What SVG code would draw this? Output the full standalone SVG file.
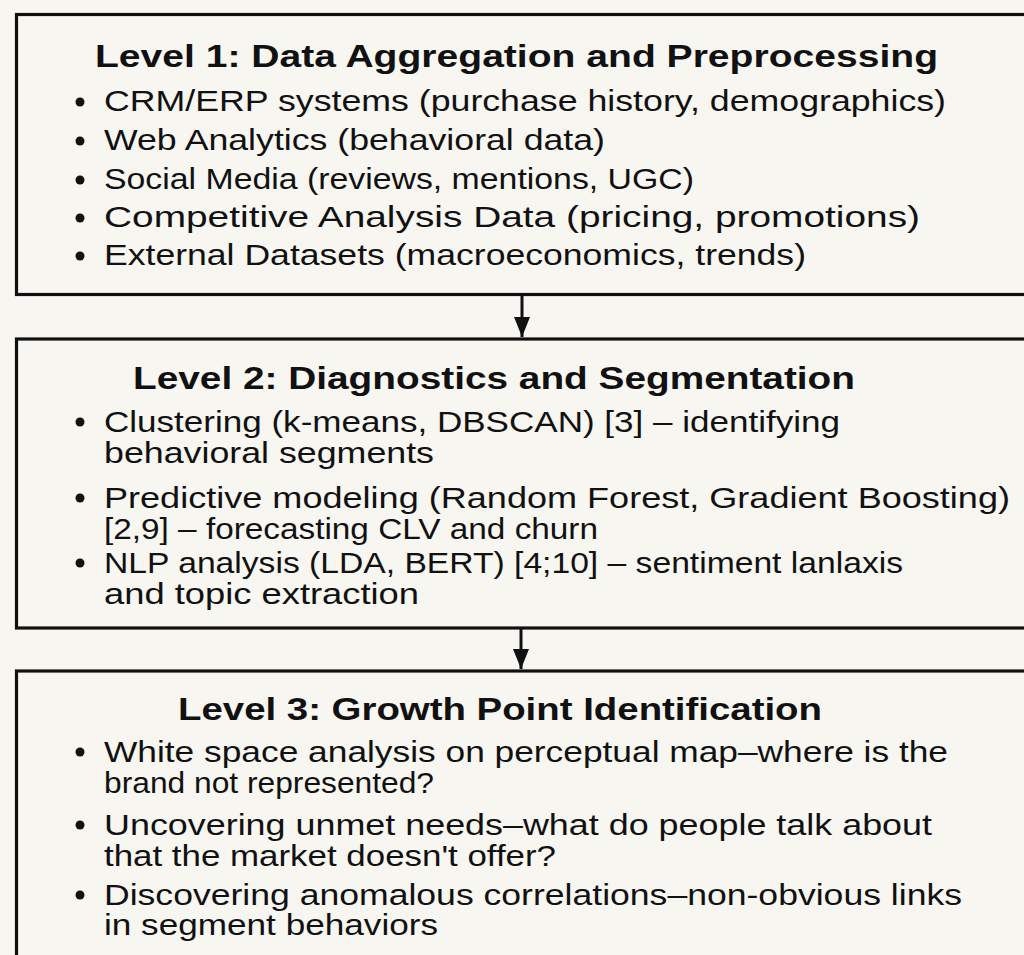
<svg xmlns="http://www.w3.org/2000/svg" width="1024" height="955" viewBox="0 0 1024 955">
  <style>
    .box { fill: #f8f6f1; stroke: #111; stroke-width: 3.2; }
    .title { font-family: "Liberation Sans", Arial, sans-serif; font-weight: bold; font-size: 31px; fill: #111; }
    .item { font-family: "Liberation Sans", Arial, sans-serif; font-size: 29px; fill: #111; }
    .bullet { fill: #111; }
    .conn { stroke: #111; stroke-width: 3; fill: none; }
  </style>
  <defs>
    <marker id="arrowhead" viewBox="0 0 20 16" refX="20" refY="8" markerWidth="20" markerHeight="16" markerUnits="userSpaceOnUse" orient="auto">
      <path d="M0,0 L20,8 L0,16 Z" fill="#111"/>
    </marker>
  </defs>

  <rect width="1024" height="955" fill="#f8f6f1"/>

  <!-- Level 1 -->
  <g id="level1">
    <rect class="box" x="16.5" y="14.5" width="1030" height="280"/>
    <text class="title" x="95" y="67" textLength="843" lengthAdjust="spacingAndGlyphs">Level 1: Data Aggregation and Preprocessing</text>
    <circle class="bullet" cx="80" cy="102" r="4.5"/>
    <text class="item" x="104" y="111" textLength="842" lengthAdjust="spacingAndGlyphs">CRM/ERP systems (purchase history, demographics)</text>
    <circle class="bullet" cx="80" cy="141" r="4.5"/>
    <text class="item" x="104" y="150" textLength="501" lengthAdjust="spacingAndGlyphs">Web Analytics (behavioral data)</text>
    <circle class="bullet" cx="80" cy="180" r="4.5"/>
    <text class="item" x="104" y="189" textLength="590" lengthAdjust="spacingAndGlyphs">Social Media (reviews, mentions, UGC)</text>
    <circle class="bullet" cx="80" cy="218" r="4.5"/>
    <text class="item" x="104" y="227" textLength="816" lengthAdjust="spacingAndGlyphs">Competitive Analysis Data (pricing, promotions)</text>
    <circle class="bullet" cx="80" cy="256" r="4.5"/>
    <text class="item" x="104" y="265" textLength="702" lengthAdjust="spacingAndGlyphs">External Datasets (macroeconomics, trends)</text>
  </g>

  <!-- Level 2 -->
  <g id="level2">
    <rect class="box" x="16.5" y="339" width="1030" height="289"/>
    <text class="title" x="133" y="389" textLength="722" lengthAdjust="spacingAndGlyphs">Level 2: Diagnostics and Segmentation</text>
    <circle class="bullet" cx="80" cy="422" r="4.5"/>
    <text class="item" x="104" y="432" textLength="736" lengthAdjust="spacingAndGlyphs">Clustering (k-means, DBSCAN) [3] – identifying</text>
    <text class="item" x="104" y="463" textLength="330" lengthAdjust="spacingAndGlyphs">behavioral segments</text>
    <circle class="bullet" cx="80" cy="498" r="4.5"/>
    <text class="item" x="104" y="508" textLength="906" lengthAdjust="spacingAndGlyphs">Predictive modeling (Random Forest, Gradient Boosting)</text>
    <text class="item" x="104" y="539" textLength="494" lengthAdjust="spacingAndGlyphs">[2,9] – forecasting CLV and churn</text>
    <circle class="bullet" cx="80" cy="563" r="4.5"/>
    <text class="item" x="104" y="573" textLength="799" lengthAdjust="spacingAndGlyphs">NLP analysis (LDA, BERT) [4;10] – sentiment lanlaxis</text>
    <text class="item" x="104" y="604" textLength="315" lengthAdjust="spacingAndGlyphs">and topic extraction</text>
  </g>

  <!-- Level 3 -->
  <g id="level3">
    <rect class="box" x="16.5" y="671" width="1030" height="300"/>
    <text class="title" x="178" y="720" textLength="644" lengthAdjust="spacingAndGlyphs">Level 3: Growth Point Identification</text>
    <circle class="bullet" cx="80" cy="752" r="4.5"/>
    <text class="item" x="104" y="762" textLength="844" lengthAdjust="spacingAndGlyphs">White space analysis on perceptual map–where is the</text>
    <text class="item" x="104" y="793" textLength="330" lengthAdjust="spacingAndGlyphs">brand not represented?</text>
    <circle class="bullet" cx="80" cy="825" r="4.5"/>
    <text class="item" x="104" y="835" textLength="828" lengthAdjust="spacingAndGlyphs">Uncovering unmet needs–what do people talk about</text>
    <text class="item" x="104" y="866" textLength="452" lengthAdjust="spacingAndGlyphs">that the market doesn't offer?</text>
    <circle class="bullet" cx="80" cy="895" r="4.5"/>
    <text class="item" x="104" y="905" textLength="858" lengthAdjust="spacingAndGlyphs">Discovering anomalous correlations–non-obvious links</text>
    <text class="item" x="104" y="935" textLength="334" lengthAdjust="spacingAndGlyphs">in segment behaviors</text>
  </g>

  <!-- Connectors -->
  <g id="connectors">
    <line class="conn" x1="522" y1="296" x2="522" y2="337" marker-end="url(#arrowhead)"/>
    <line class="conn" x1="521" y1="629" x2="521" y2="669" marker-end="url(#arrowhead)"/>
  </g>
</svg>
